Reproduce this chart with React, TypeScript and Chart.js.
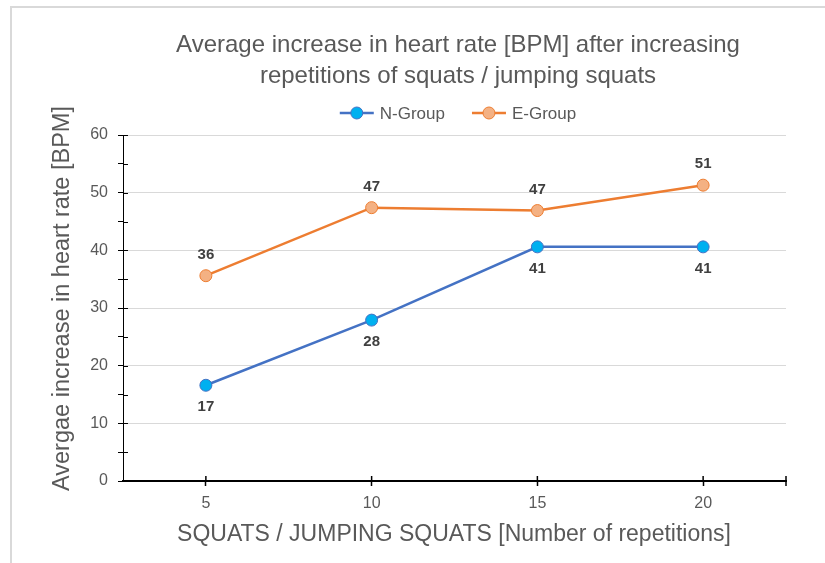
import React, { useEffect, useRef } from 'react';
import { Chart, registerables } from 'chart.js';

Chart.register(...registerables);

// ---- data ----
const repetitions = ['5', '10', '15', '20'];
const nGroupValues = [16.6, 27.9, 40.6, 40.6];
const eGroupValues = [35.6, 47.4, 46.9, 51.3];
const seriesNames = ['N-Group', 'E-Group'];
const yMin = 0;
const yMax = 60;
const yMajorStep = 10;
const yMinorStep = 5;
const titleLines = [
  'Average increase in heart rate [BPM] after increasing',
  'repetitions of squats / jumping squats',
];
const xAxisTitle = 'SQUATS / JUMPING SQUATS [Number of repetitions]';
const yAxisTitle = 'Avergae increase in heart rate [BPM]';

// ---- styles ----
const FONT = "'Liberation Sans', Arial, sans-serif";
const TEXT_GRAY = '#595959';
const LABEL_GRAY = '#404040';
const N_LINE = '#4472C4';
const N_FILL = '#00B0F0';
const E_LINE = '#ED7D31';
const E_FILL = '#F4B183';

const decorPlugin = {
  id: 'decor',
  beforeDatasetsDraw(chart: any) {
    const ctx = chart.ctx;
    const area = chart.chartArea;
    const ys = chart.scales.y;
    const xs = chart.scales.x;
    ctx.save();
    ctx.strokeStyle = '#000';
    ctx.lineWidth = 1;
    // y axis line
    const ax = Math.round(area.left) + 0.5;
    ctx.beginPath();
    ctx.moveTo(ax, area.top);
    ctx.lineTo(ax, area.bottom);
    ctx.stroke();
    // inner halves of y tick marks
    ys.ticks.forEach((t: any) => {
      const y = Math.round(ys.getPixelForValue(t.value)) + 0.5;
      ctx.beginPath();
      ctx.moveTo(area.left, y);
      ctx.lineTo(area.left + 5, y);
      ctx.stroke();
    });
    // inner halves of x tick marks + end tick
    ctx.lineWidth = 1.5;
    xs.ticks.forEach((_t: any, i: number) => {
      const x = xs.getPixelForTick(i);
      ctx.beginPath();
      ctx.moveTo(x, area.bottom);
      ctx.lineTo(x, area.bottom - 5);
      ctx.stroke();
    });
    ctx.beginPath();
    ctx.moveTo(area.right, area.bottom - 5);
    ctx.lineTo(area.right, area.bottom + 5);
    ctx.stroke();
    ctx.restore();
  },
  afterDatasetsDraw(chart: any) {
    const ctx = chart.ctx;
    ctx.save();
    ctx.font = `bold 15px ${FONT}`;
    ctx.fillStyle = LABEL_GRAY;
    ctx.textAlign = 'center';
    ctx.textBaseline = 'middle';
    chart.data.datasets.forEach((ds: any, di: number) => {
      const meta = chart.getDatasetMeta(di);
      const offset = di === 0 ? 22 : -21;
      meta.data.forEach((pt: any, i: number) => {
        ctx.fillText(String(Math.round(ds.data[i])), pt.x, pt.y + offset);
      });
    });
    ctx.restore();
  },
  afterDraw(chart: any) {
    const ctx = chart.ctx;
    const centerX = 458;
    ctx.save();
    // title
    ctx.fillStyle = TEXT_GRAY;
    ctx.textAlign = 'center';
    ctx.textBaseline = 'middle';
    ctx.font = `24px ${FONT}`;
    titleLines.forEach((line, i) => ctx.fillText(line, centerX, 45 + i * 31));

    // legend
    ctx.font = `17px ${FONT}`;
    const lineLen = 34;
    const gap = 6;
    const itemGap = 27;
    const widths = seriesNames.map((n) => ctx.measureText(n).width);
    const total = widths.reduce((a, w) => a + lineLen + gap + w, 0) + itemGap * (seriesNames.length - 1);
    let x = centerX - total / 2;
    const ly = 113;
    chart.data.datasets.forEach((ds: any, i: number) => {
      ctx.strokeStyle = ds.borderColor;
      ctx.lineWidth = 2.5;
      ctx.beginPath();
      ctx.moveTo(x, ly);
      ctx.lineTo(x + lineLen, ly);
      ctx.stroke();
      ctx.beginPath();
      ctx.arc(x + lineLen / 2, ly, 6, 0, Math.PI * 2);
      ctx.fillStyle = ds.pointBackgroundColor;
      ctx.fill();
      ctx.lineWidth = 1;
      ctx.strokeStyle = ds.pointBorderColor;
      ctx.stroke();
      ctx.fillStyle = TEXT_GRAY;
      ctx.textAlign = 'left';
      ctx.fillText(seriesNames[i], x + lineLen + gap, ly + 1);
      x += lineLen + gap + widths[i] + itemGap;
    });

    // axis titles
    ctx.textAlign = 'center';
    ctx.font = `23px ${FONT}`;
    ctx.fillText(xAxisTitle, 454, 535);
    ctx.save();
    ctx.translate(63, 298.5);
    ctx.rotate(-Math.PI / 2);
    ctx.font = `23.5px ${FONT}`;
    ctx.fillText(yAxisTitle, 0, 0);
    ctx.restore();
    ctx.restore();
  },
};

export default function App() {
  const canvasRef = useRef<HTMLCanvasElement | null>(null);

  useEffect(() => {
    if (!canvasRef.current) return;
    const chart = new Chart(canvasRef.current, {
      type: 'line',
      data: {
        labels: repetitions,
        datasets: [
          {
            label: seriesNames[0],
            data: nGroupValues,
            borderColor: N_LINE,
            borderWidth: 2.5,
            pointBackgroundColor: N_FILL,
            pointBorderColor: N_LINE,
            pointBorderWidth: 1,
            pointRadius: 6,
            tension: 0,
          },
          {
            label: seriesNames[1],
            data: eGroupValues,
            borderColor: E_LINE,
            borderWidth: 2.5,
            pointBackgroundColor: E_FILL,
            pointBorderColor: E_LINE,
            pointBorderWidth: 1,
            pointRadius: 6,
            tension: 0,
          },
        ],
      },
      options: {
        responsive: false,
        animation: false,
        layout: { padding: { top: 135, right: 39, left: 0, bottom: 0 } },
        plugins: {
          legend: { display: false },
          title: { display: false },
          tooltip: { enabled: false },
        },
        scales: {
          x: {
            type: 'category',
            offset: true,
            afterFit: (s: any) => {
              s.height = 82;
            },
            grid: {
              display: true,
              drawOnChartArea: false,
              drawTicks: true,
              tickLength: 5,
              tickColor: '#000',
              tickWidth: 1.5,
              offset: false,
            },
            border: { display: true, color: '#000', width: 2 },
            ticks: {
              color: TEXT_GRAY,
              font: { family: FONT, size: 16 },
              padding: 8,
              maxRotation: 0,
            },
          },
          y: {
            type: 'linear',
            min: yMin,
            max: yMax,
            afterFit: (s: any) => {
              s.width = 123;
            },
            grid: {
              color: (c: any) =>
                c.tick && c.tick.value % yMajorStep === 0 ? '#d9d9d9' : 'rgba(0,0,0,0)',
              lineWidth: 1,
              drawTicks: true,
              tickLength: 5,
              tickColor: '#000',
              tickWidth: 1,
            },
            border: { display: true, color: '#000', width: 1 },
            ticks: {
              stepSize: yMinorStep,
              autoSkip: false,
              color: TEXT_GRAY,
              font: { family: FONT, size: 16 },
              padding: 10,
              callback: (v: any) => (Number(v) % yMajorStep === 0 ? String(v) : ''),
            },
          },
        },
      },
      plugins: [decorPlugin],
    });
    return () => chart.destroy();
  }, []);

  return (
    <div
      style={{
        position: 'fixed',
        left: 0,
        top: 0,
        width: 825,
        height: 563,
        overflow: 'hidden',
        background: '#fff',
      }}
    >
      <div
        style={{
          position: 'absolute',
          left: 10,
          top: 6,
          width: 900,
          height: 600,
          border: '2px solid #d9d9d9',
          boxSizing: 'border-box',
        }}
      />
      <canvas
        ref={canvasRef}
        width={825}
        height={563}
        style={{ position: 'absolute', left: 0, top: 0, width: 825, height: 563 }}
      />
    </div>
  );
}
